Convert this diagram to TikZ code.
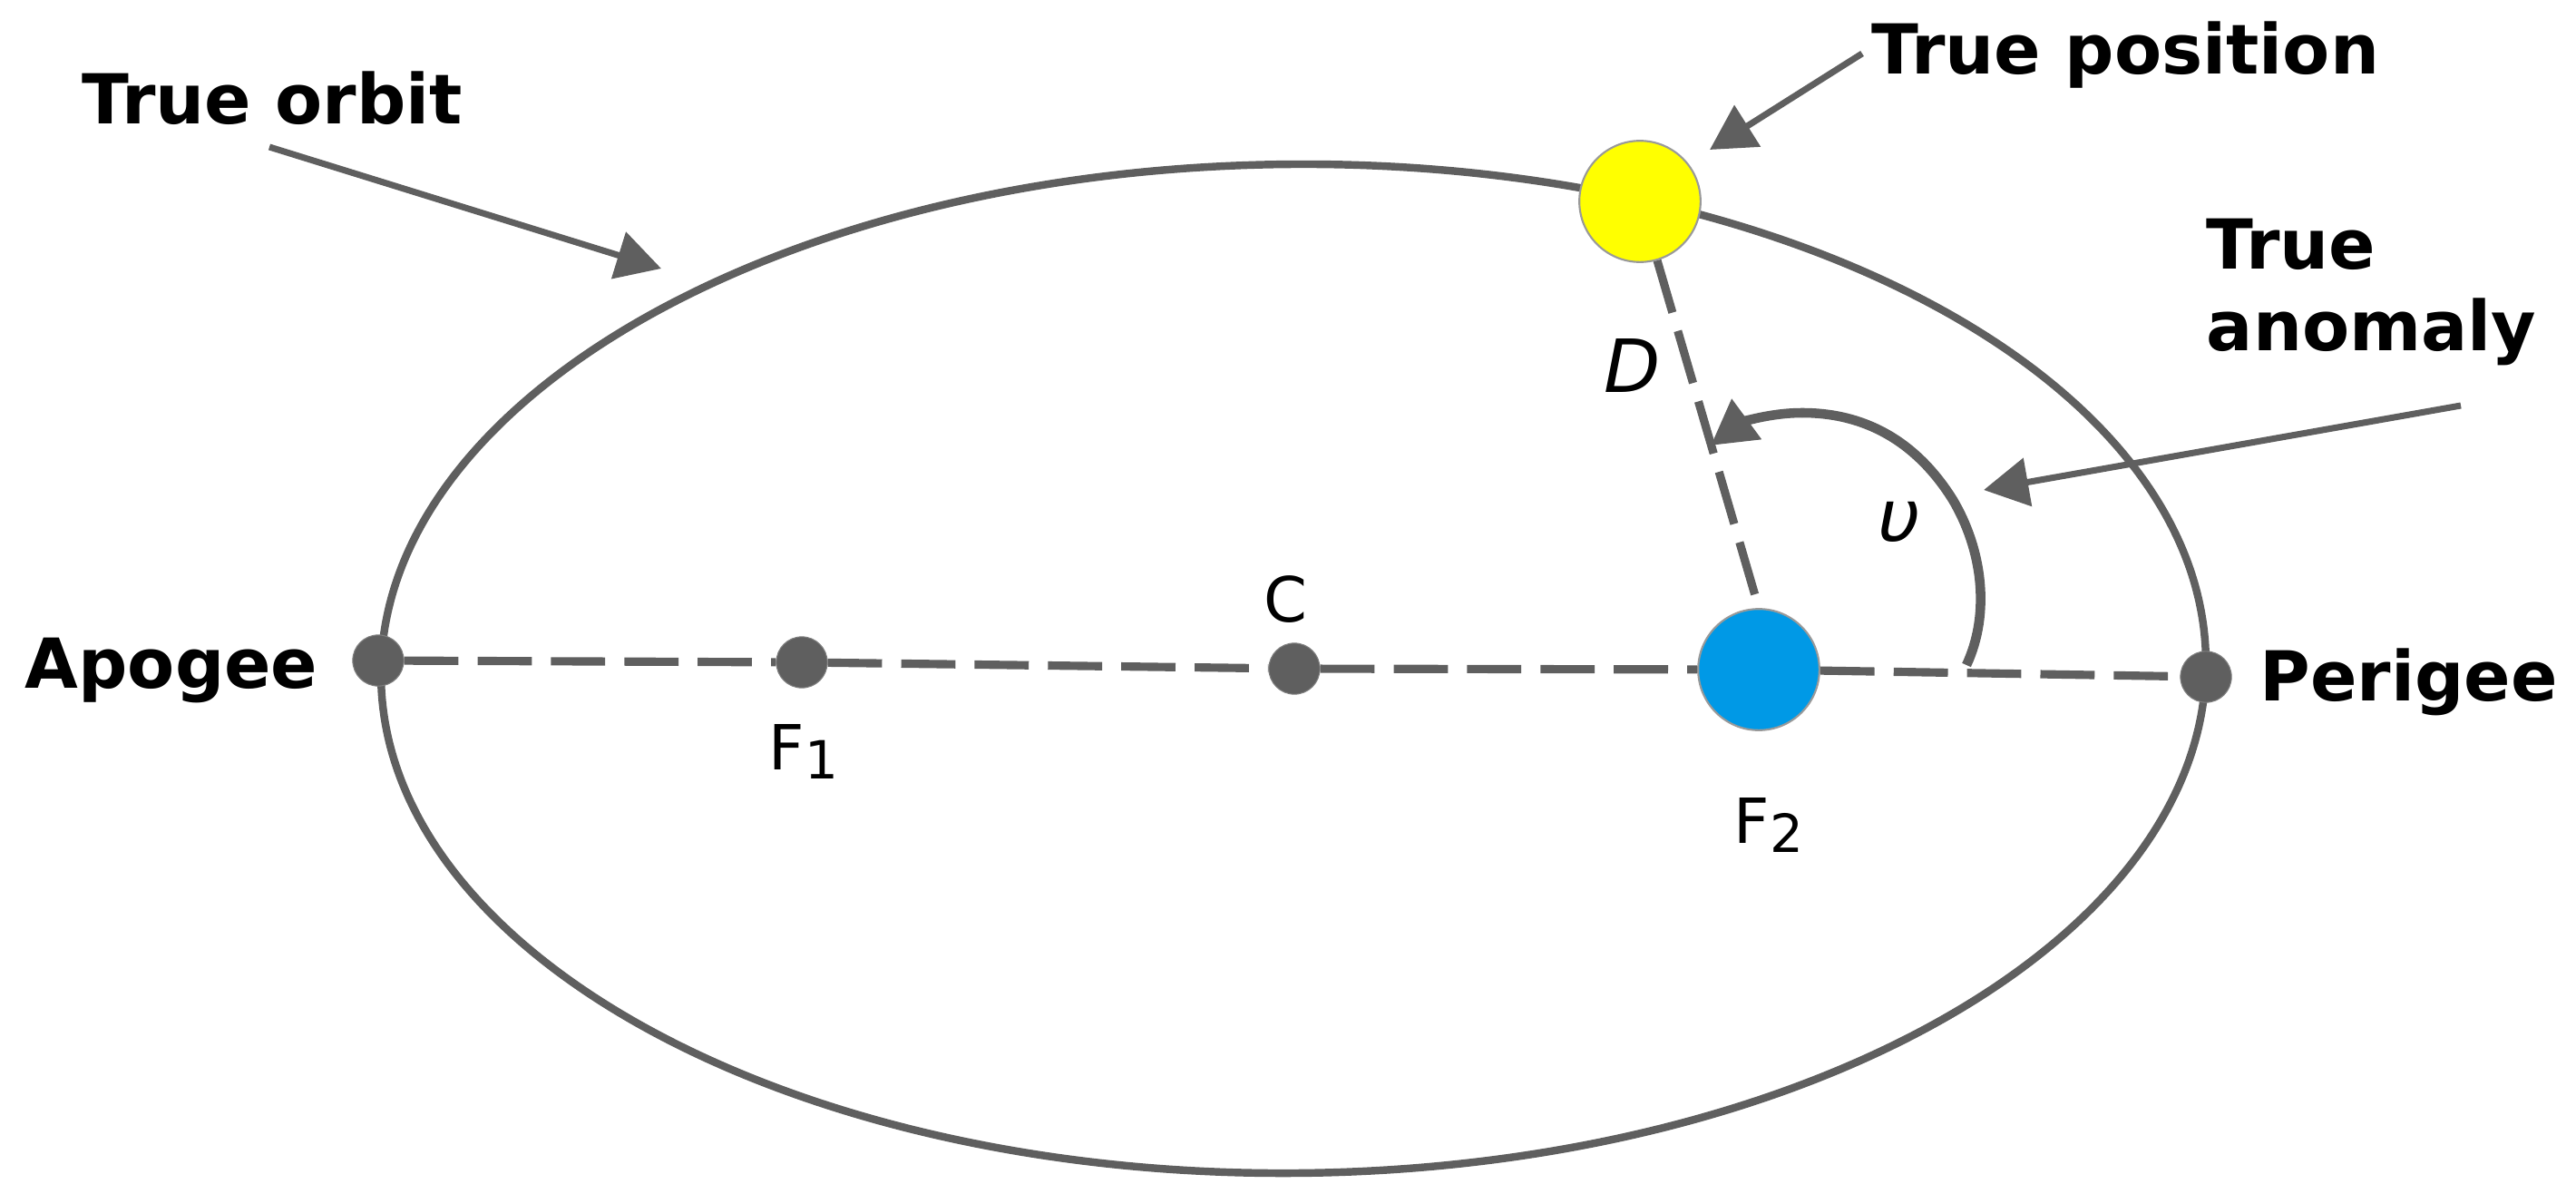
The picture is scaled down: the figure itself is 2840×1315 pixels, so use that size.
\documentclass[tikz,border=0pt]{standalone}
\usepackage{fontspec}
\setmainfont{DejaVu Sans}
\usetikzlibrary{arrows.meta}
\definecolor{orbitgray}{HTML}{5F5F5F}
\definecolor{sunyellow}{HTML}{FFFF00}
\definecolor{focusblue}{HTML}{0099E6}
\tikzset{
  dot/.style={circle, fill=orbitgray, draw=orbitgray!80, line width=0.3pt, inner sep=0pt, minimum size=16pt},
  body/.style={circle, draw=gray!80, line width=0.6pt, inner sep=0pt, minimum size=38pt},
  orbit/.style={draw=orbitgray, line width=2.4pt},
  axis/.style={draw=orbitgray, line width=2.6pt, dash pattern=on 17pt off 6pt},
  pointer/.style={draw=orbitgray, line width=2pt, -{Triangle[length=14pt, width=15pt, fill=orbitgray]}},
  boldlabel/.style={anchor=base west, inner sep=0pt, font=\fontsize{21.6}{25}\selectfont\bfseries},
  plainlabel/.style={anchor=base west, inner sep=0pt, font=\fontsize{19.5}{24}\selectfont},
  italiclabel/.style={anchor=base west, inner sep=0pt, font=\fontsize{23}{27}\selectfont\itshape}
}
\newcommand{\focussub}[1]{\raisebox{-3pt}{\fontsize{16.5}{20}\selectfont #1}}
\begin{document}
\begin{tikzpicture}[x=0.01cm, y=-0.01cm]
\useasboundingbox (0,0) rectangle (2840,1315);
\draw[orbit, rotate around={0.5:(1426,737)}] (1426,737) ellipse (1006 and 556);

\node[dot] (apogee) at (417,728){};
\node[dot] (fone) at (884,730){};
\node[dot] (center) at (1427,737){};
\node[body, fill=focusblue] (ftwo) at (1939,738){};
\node[dot] (perigee) at (2432,746){};
\node[body, fill=sunyellow] (position) at (1808,222){};

\draw[axis](apogee) -- (fone);
\draw[axis](fone) -- (center);
\draw[axis](center) -- (ftwo);
\draw[axis](ftwo) -- (perigee);
\draw[axis](position) -- (ftwo.north);

\coordinate (orbitstart) at (297,162);
\coordinate (orbittip) at (729,296);
\coordinate (positionstart) at (2053,59);
\coordinate (positiontip) at (1885,165);
\coordinate (anomalystart) at (2713,447);
\coordinate (anomalytip) at (2187,540);
\coordinate (arcstart) at (2168,733);
\coordinate (arcmid) at (2153,551);
\coordinate (arctop) at (1987,455);
\coordinate (arctip) at (1886,491);

\draw[pointer](orbitstart) -- (orbittip);
\draw[pointer](positionstart) -- (positiontip);
\draw[pointer](anomalystart) -- (anomalytip);
\draw[orbit, line width=3pt](arcstart) .. controls (2195,675) and (2185,605) .. (arcmid) .. controls (2115,490) and (2060,455) .. (arctop);
\draw[pointer, line width=3pt](arctop) .. controls (1950,455) and (1920,466) .. (arctip);

\node[boldlabel] (orbitlabel) at (90,136){True orbit};
\node[boldlabel] (positionlabel) at (2063,81){True position};
\node[boldlabel] (truelabel) at (2432,296){True};
\node[boldlabel] (anomalylabel) at (2432,386){anomaly};
\node[boldlabel] (apogeelabel) at (27,758){Apogee};
\node[boldlabel] (perigeelabel) at (2491,772){Perigee};
\node[plainlabel] (fonelabel) at (847,848){F\focussub{1}};
\node[plainlabel] (centerlabel) at (1393,685){C};
\node[plainlabel] (ftwolabel) at (1911,929){F\focussub{2}};
\node[italiclabel] (dlabel) at (1768,432){D};
\node[italiclabel] (ulabel) at (2070,597){υ};
\end{tikzpicture}
\end{document}
